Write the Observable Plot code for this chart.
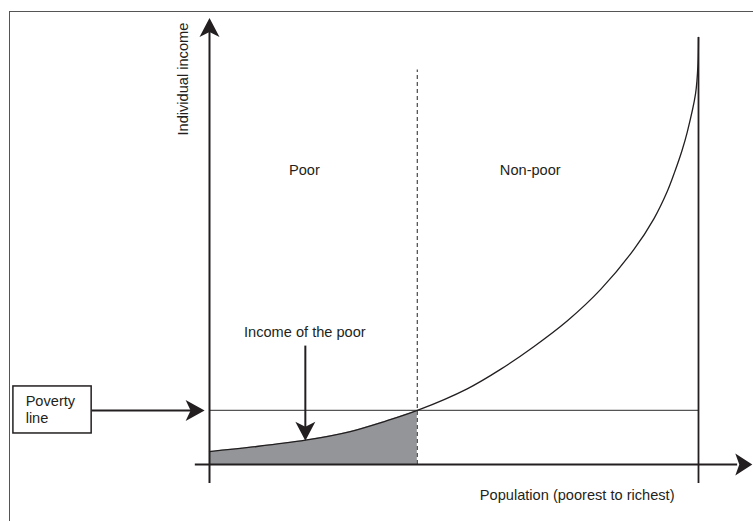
<!DOCTYPE html>
<html>
<head>
<meta charset="utf-8">
<script src="https://cdn.jsdelivr.net/npm/d3@7"></script>
<script src="https://cdn.jsdelivr.net/npm/@observablehq/plot@0.6"></script>
<style>
  html, body { margin: 0; padding: 0; background: #fff; }
  #chart svg { display: block; }
</style>
</head>
<body>
<div id="chart"></div>
<script>
// Population share (poorest to richest, %) and individual income (poverty line = 100)
const population = [0, 8.4, 19.6, 28.8, 35.6, 42.5, 52.7, 59.5, 66.3, 73.2, 80, 86.8, 90.9, 93.6, 95.2, 96.6, 97.7, 99.4, 99.9, 100];
const income     = [24, 32, 45, 61, 79, 100, 140, 176, 218, 266, 324, 398, 455, 505, 543, 580, 615, 686, 742, 790];
const povertyLine = 100;
const poorShare = 42.5;

const regionLabels = ["Poor", "Non-poor"];
const axisLabels = ["Individual income", "Population (poorest to richest)"];
const calloutLabels = ["Income of the poor", "Poverty", "line"];

const curve = population.map((p, i) => ({p, v: income[i]}));
const poorPart = curve.filter(d => d.p <= poorShare);

const ink = "#231f20";
const font = "'Liberation Sans', Arial, Helvetica, sans-serif";
const fs = 14.6;

function arrowHead(L, W, notch) {
  return {
    draw(ctx) {
      ctx.moveTo(0, 0);
      ctx.lineTo(W / 2, L);
      ctx.lineTo(0, L - notch);
      ctx.lineTo(-W / 2, L);
      ctx.closePath();
    }
  };
}

const chart = Plot.plot({
  width: 753,
  height: 521,
  marginLeft: 9,
  marginTop: 11,
  marginRight: -3,
  marginBottom: -3,
  style: {fontFamily: font, fontSize: fs + "px", background: "#fff", color: ink},
  x: {domain: [0, 100], range: [209, 698], axis: null},
  y: {domain: [0, 790], range: [464, 37], axis: null},
  marks: [
    Plot.frame({stroke: "#555", strokeWidth: 1}),
    // shaded income of the poor
    Plot.areaY(poorPart, {x: "p", y: "v", curve: "catmull-rom", fill: "#939598"}),
    // poverty line
    Plot.ruleY([povertyLine], {x1: 0, x2: 100, stroke: "#555", strokeWidth: 1.2}),
    // poor / non-poor divide
    Plot.ruleX([poorShare], {y1: 0, y2: 730, stroke: "#555", strokeWidth: 1.3, strokeDasharray: "4,3"}),
    // richest person vertical
    Plot.ruleX([100], {y1: -35, y2: 790, stroke: ink, strokeWidth: 1.8}),
    // income curve
    Plot.line(curve, {x: "p", y: "v", curve: "catmull-rom", stroke: ink, strokeWidth: 1.3}),
    // axes
    Plot.ruleX([0], {y1: -35, y2: 800, stroke: ink, strokeWidth: 2}),
    Plot.ruleY([0], {x1: -2.9, x2: 108, stroke: ink, strokeWidth: 2.2}),
    Plot.dot([{x: 0, y: 826}], {x: "x", y: "y", symbol: arrowHead(19, 20, 5), fill: ink, stroke: "none", rotate: 0}),
    Plot.dot([{x: 111, y: 0}], {x: "x", y: "y", symbol: arrowHead(17, 22, 4), fill: ink, stroke: "none", rotate: 90}),
    // poverty line callout
    Plot.rect([{x1: -40.1, x2: -24.1, y1: 57.4, y2: 144.4}], {x1: "x1", x2: "x2", y1: "y1", y2: "y2", fill: "#fff", stroke: ink, strokeWidth: 1.5}),
    Plot.text([calloutLabels[1], calloutLabels[2]], {x: -37.6, y: [109, 76], text: d => d, textAnchor: "start", lineAnchor: "bottom", fill: ink, fontSize: fs}),
    Plot.link([{x1: -24.1, x2: -3, y: povertyLine}], {x1: "x1", x2: "x2", y1: "y", y2: "y", stroke: ink, strokeWidth: 2}),
    Plot.dot([{x: -1.0, y: povertyLine}], {x: "x", y: "y", symbol: arrowHead(19, 21, 5), fill: ink, stroke: "none", rotate: 90}),
    // income of the poor callout
    Plot.text([calloutLabels[0]], {x: 19.5, y: 235, text: d => d, textAnchor: "middle", lineAnchor: "bottom", fill: ink, fontSize: fs}),
    Plot.link([{x: 19.6, y1: 220, y2: 60}], {x1: "x", x2: "x", y1: "y1", y2: "y2", stroke: ink, strokeWidth: 2}),
    Plot.dot([{x: 19.6, y: 44}], {x: "x", y: "y", symbol: arrowHead(19, 20, 5), fill: ink, stroke: "none", rotate: 180}),
    // region labels
    Plot.text(regionLabels, {x: [19.4, 65.6], y: [535, 535], text: d => d, textAnchor: "middle", lineAnchor: "bottom", fill: ink, fontSize: fs}),
    // axis labels
    Plot.text([axisLabels[0]], {x: -4.3, y: 713, text: d => d, rotate: -90, textAnchor: "middle", lineAnchor: "bottom", fill: ink, fontSize: fs}),
    Plot.text([axisLabels[1]], {x: 95.1, y: -64.8, text: d => d, textAnchor: "end", lineAnchor: "bottom", fill: ink, fontSize: fs})
  ]
});

document.getElementById("chart").appendChild(chart);
</script>
</body>
</html>
